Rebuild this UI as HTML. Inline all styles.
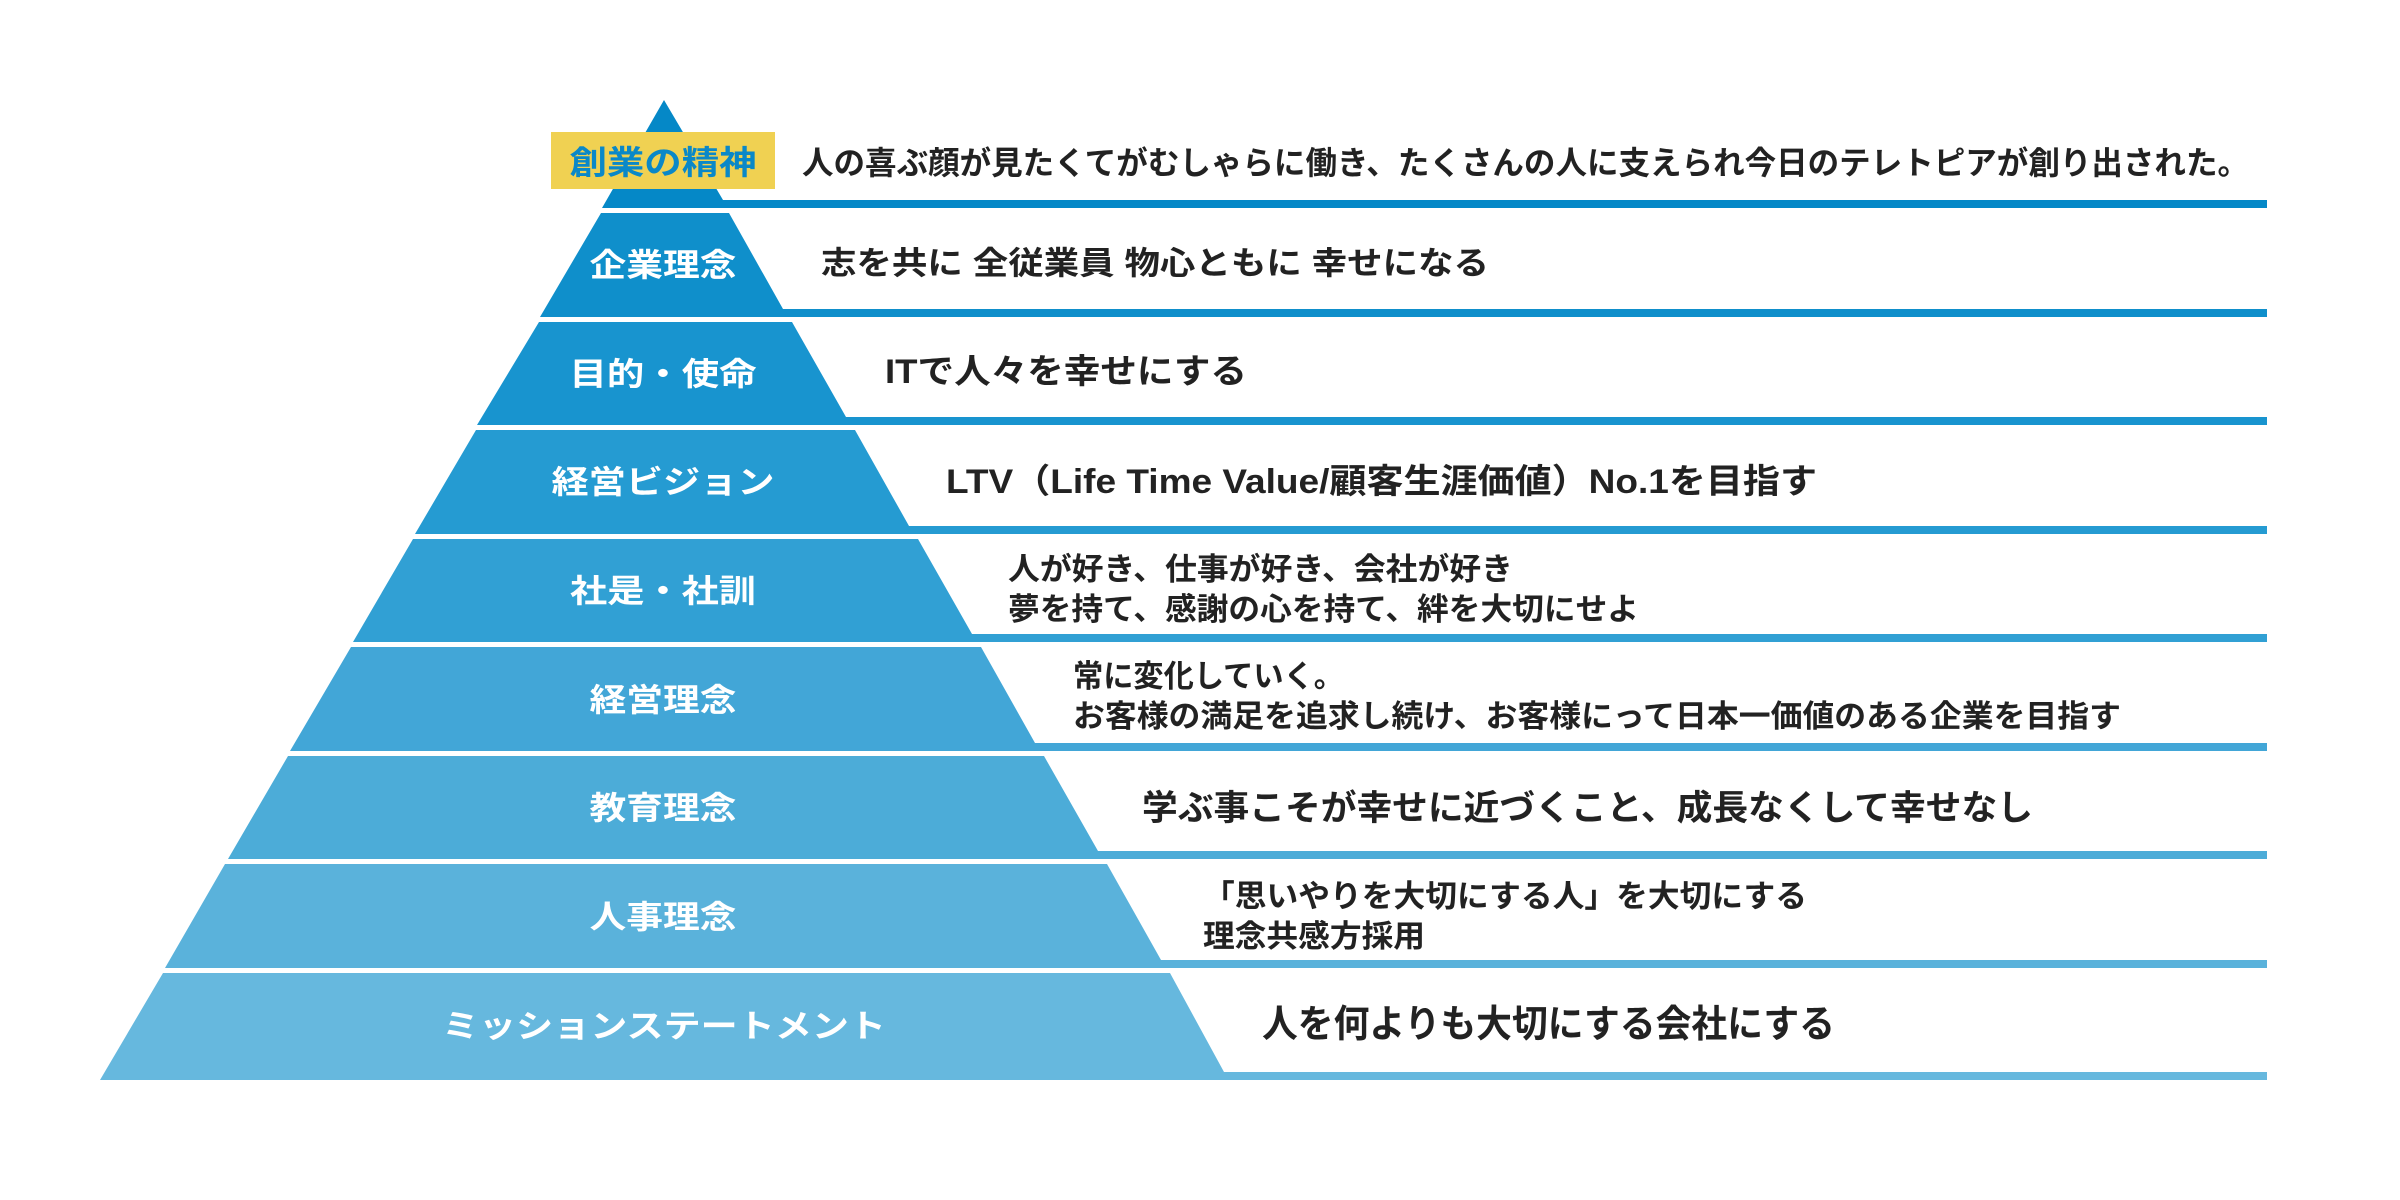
<!DOCTYPE html>
<html><head><meta charset="utf-8"><style>
html,body{margin:0;padding:0;background:#fff;}
svg{display:block;}
text{font-family:"Liberation Sans","Noto Sans CJK JP",sans-serif;font-weight:bold;}
.r{fill:#222;}
.l{fill:#fff;}
</style></head><body>
<svg width="2400" height="1200" viewBox="0 0 2400 1200" xmlns="http://www.w3.org/2000/svg">
<rect width="2400" height="1200" fill="#fff"/>
<!-- band 1 -->
<polygon points="664,100 602,208 2267,208 2267,200 723,200" fill="#0588c7"/>
<!-- bands 2-9: T=213+(k-2)*108.5, B=T+103.5, L(y)=664-0.577(y-100), Rt=729+(k-2)*63, Rb=Rt+54 -->
<polygon points="601,213 729,213 783,309 2267,309 2267,317 540,317" fill="#0f8fcb"/>
<polygon points="539,322 792,322 846,417 2267,417 2267,425 477,425" fill="#1894cf"/>
<polygon points="476,430 855,430 909,526 2267,526 2267,534 415,534" fill="#259bd2"/>
<polygon points="413,539 918,539 972,634 2267,634 2267,642 353,642" fill="#31a0d4"/>
<polygon points="351,647 981,647 1035,743 2267,743 2267,751 290,751" fill="#42a6d7"/>
<polygon points="288,756 1044,756 1098,851 2267,851 2267,859 228,859" fill="#4cacd8"/>
<polygon points="225,864 1107,864 1161,960 2267,960 2267,968 165,968" fill="#5ab2db"/>
<polygon points="163,973 1170,973 1224,1072 2267,1072 2267,1080 100,1080" fill="#66b8de"/>

<!-- yellow label -->
<rect x="551" y="132" width="224" height="57" fill="#f0d152"/>
<text x="663" y="174" font-size="33" fill="#0a88c8" text-anchor="middle" textLength="187" lengthAdjust="spacingAndGlyphs">創業の精神</text>

<!-- left labels -->
<text class="l" x="663" y="276" font-size="32" text-anchor="middle" textLength="147" lengthAdjust="spacingAndGlyphs">企業理念</text>
<text class="l" x="663" y="385" font-size="32" text-anchor="middle" textLength="187" lengthAdjust="spacingAndGlyphs">目的・使命</text>
<text class="l" x="663" y="493" font-size="32" text-anchor="middle" textLength="223" lengthAdjust="spacingAndGlyphs">経営ビジョン</text>
<text class="l" x="663" y="602" font-size="32" text-anchor="middle" textLength="186" lengthAdjust="spacingAndGlyphs">社是・社訓</text>
<text class="l" x="663" y="711" font-size="32" text-anchor="middle" textLength="147" lengthAdjust="spacingAndGlyphs">経営理念</text>
<text class="l" x="663" y="819" font-size="32" text-anchor="middle" textLength="147" lengthAdjust="spacingAndGlyphs">教育理念</text>
<text class="l" x="663" y="928" font-size="32" text-anchor="middle" textLength="147" lengthAdjust="spacingAndGlyphs">人事理念</text>
<text class="l" x="664" y="1037" font-size="32" text-anchor="middle" textLength="444" lengthAdjust="spacingAndGlyphs">ミッションステートメント</text>

<!-- right texts -->
<text class="r" x="802" y="174" font-size="32" textLength="1447" lengthAdjust="spacingAndGlyphs">人の喜ぶ顔が見たくてがむしゃらに働き、たくさんの人に支えられ今日のテレトピアが創り出された。</text>
<text class="r" x="821" y="274" font-size="32" textLength="668" lengthAdjust="spacingAndGlyphs">志を共に 全従業員 物心ともに 幸せになる</text>
<text class="r" x="885" y="383" font-size="34" textLength="362" lengthAdjust="spacingAndGlyphs">ITで人々を幸せにする</text>
<text class="r" x="946" y="493" font-size="34" textLength="871" lengthAdjust="spacingAndGlyphs">LTV（Life Time Value/顧客生涯価値）No.1を目指す</text>
<text class="r" x="1008" y="580" font-size="31" textLength="505" lengthAdjust="spacingAndGlyphs">人が好き、仕事が好き、会社が好き</text>
<text class="r" x="1008" y="620" font-size="31" textLength="631" lengthAdjust="spacingAndGlyphs">夢を持て、感謝の心を持て、絆を大切にせよ</text>
<text class="r" x="1073" y="687" font-size="31" textLength="271" lengthAdjust="spacingAndGlyphs">常に変化していく。</text>
<text class="r" x="1073" y="727" font-size="31" textLength="1048" lengthAdjust="spacingAndGlyphs">お客様の満足を追求し続け、お客様にって日本一価値のある企業を目指す</text>
<text class="r" x="1142" y="820" font-size="35" textLength="891" lengthAdjust="spacingAndGlyphs">学ぶ事こそが幸せに近づくこと、成長なくして幸せなし</text>
<text class="r" x="1203" y="907" font-size="31" textLength="604" lengthAdjust="spacingAndGlyphs">「思いやりを大切にする人」を大切にする</text>
<text class="r" x="1203" y="947" font-size="31" textLength="222" lengthAdjust="spacingAndGlyphs">理念共感方採用</text>
<text class="r" x="1262" y="1037" font-size="38" textLength="573" lengthAdjust="spacingAndGlyphs">人を何よりも大切にする会社にする</text>
</svg>
</body></html>
